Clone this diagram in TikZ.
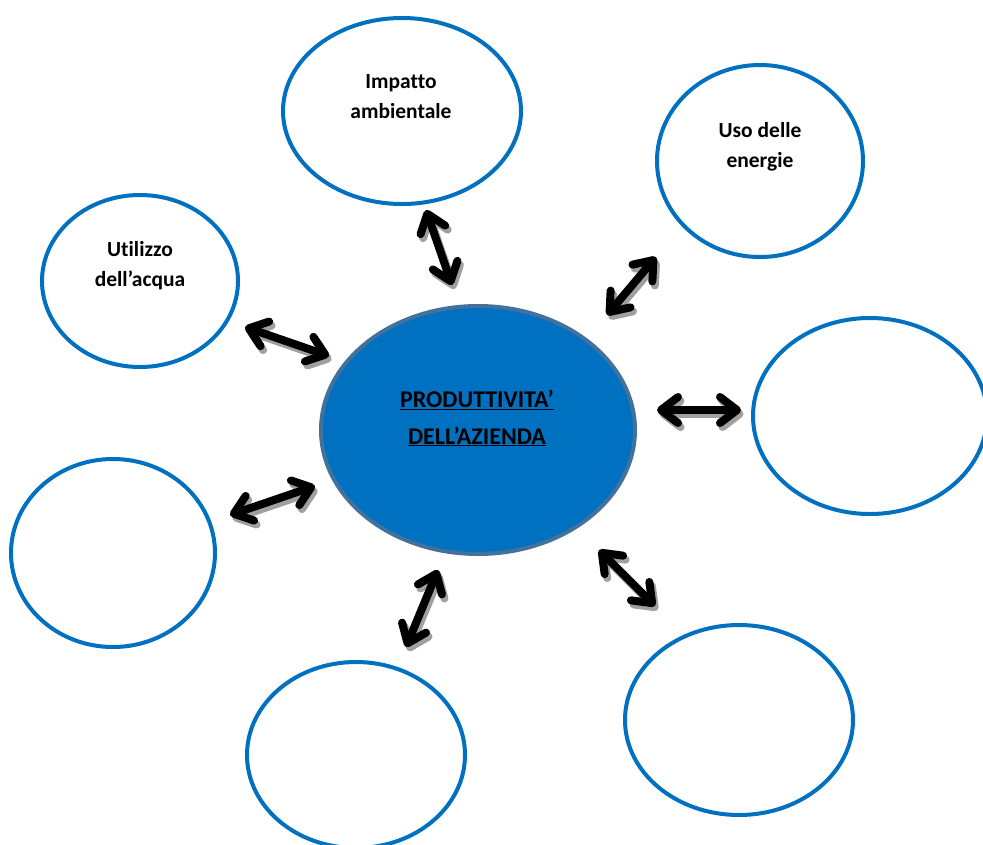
\documentclass[tikz,border=0pt]{standalone}
\usepackage{fontspec}
\setmainfont[Ligatures=NoCommon]{Carlito}
\usetikzlibrary{arrows.meta}
\definecolor{ringblue}{HTML}{0070C0}
\definecolor{hubedge}{HTML}{41719C}
\definecolor{shade}{HTML}{A0A0A0}

\begin{document}
\begin{tikzpicture}[
  x=1pt, y=-1pt,
  ring/.style={draw=ringblue, line width=4pt},
  hub/.style={draw=hubedge, line width=4pt, fill=ringblue},
  lbl/.style={font=\bfseries\fontsize{21.5}{30}\selectfont, align=center},
  twoway/.style={line width=8pt, line cap=round, line join=round,
                 {Straight Barb[length=17pt,width=26pt,line cap=round,line join=round]}-{Straight Barb[length=17pt,width=26pt,line cap=round,line join=round]}},
  shadow/.style={twoway, draw=shade, transform canvas={shift={(2.5pt,-4pt)}}}
]
\useasboundingbox (0,0) rectangle (983,844);

% satellites
\draw[ring] (402,111) ellipse (119 and 93);
\draw[ring] (760,161) ellipse (103 and 96);
\draw[ring] (140,281) ellipse (98 and 86);
\draw[ring] (870,416) ellipse (117 and 98);
\draw[ring] (113,553) ellipse (102 and 94);
\draw[ring] (356,755) ellipse (109 and 93);
\draw[ring] (739,720) ellipse (114 and 95);

% centre
\draw[hub] (478,430) ellipse (157 and 124);
\node[lbl, font=\bfseries\fontsize{24}{37}\selectfont] (prod) at (477,418)
  {\underline{PRODUTTIVITA’}\\\underline{DELL’AZIENDA}};

\node[lbl] (imp) at (401,97) {Impatto\\ambientale};
\node[lbl] (uso) at (760,147) {Uso delle\\energie};
\node[lbl] (acq) at (140,266) {Utilizzo\\dell’acqua};

% arrow ends
\coordinate (a1) at (426,210); \coordinate (b1) at (452,285);
\coordinate (a2) at (656,257); \coordinate (b2) at (607,315);
\coordinate (a3) at (245,327); \coordinate (b3) at (329,356);
\coordinate (a4) at (657,410); \coordinate (b4) at (741,410);
\coordinate (a5) at (230,515); \coordinate (b5) at (315,486);
\coordinate (a6) at (406,647); \coordinate (b6) at (438,570);
\coordinate (a7) at (599,550); \coordinate (b7) at (655,606);

\foreach \i in {1,...,7} {
  \draw[shadow] (a\i) -- (b\i);
  \draw[twoway] (a\i) -- (b\i);
}
\end{tikzpicture}
\end{document}
